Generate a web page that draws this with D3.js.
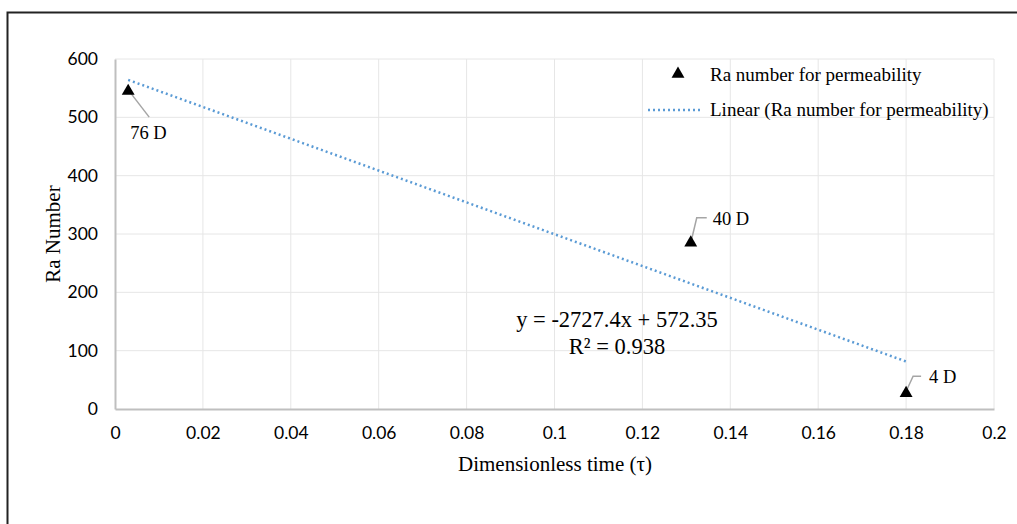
<!DOCTYPE html>
<html>
<head>
<meta charset="utf-8">
<script src="https://cdn.jsdelivr.net/npm/d3@7"></script>
<style>
  body { margin: 0; background: #fff; }
  svg { display: block; }
  .tick text { font-family: Lato, "Open Sans", sans-serif; font-size: 17.5px; fill: #000; }
  .serif { font-family: "Liberation Serif", "Times New Roman", serif; fill: #000; }
</style>
</head>
<body>
<svg id="chart" width="1017" height="524"></svg>
<script>
// data
const tau = [0.003, 0.131, 0.18];
const raNumber = [545, 285, 27];
const permLabels = ["76 D", "40 D", "4 D"];
const xTicks = [0, 0.02, 0.04, 0.06, 0.08, 0.1, 0.12, 0.14, 0.16, 0.18, 0.2];
const yTicks = [0, 100, 200, 300, 400, 500, 600];
const slope = -2727.4, intercept = 572.35, r2 = 0.938;

const svg = d3.select("#chart"),
  width = +svg.attr("width"),
  height = +svg.attr("height");

const margin = { left: 115, right: 23, top: 59, bottom: 115 };

const x = d3.scaleLinear().domain([0, 0.2]).range([margin.left, width - margin.right]);
const y = d3.scaleLinear().domain([0, 600]).range([height - margin.bottom, margin.top]);

// outer frame (top + left only)
svg.append("path")
  .attr("d", `M7.5,${height} V12.5 H${width}`)
  .attr("fill", "none")
  .attr("stroke", "#222")
  .attr("stroke-width", 2);

// grid
svg.append("g")
  .selectAll("line")
  .data(yTicks.slice(1))
  .join("line")
  .attr("x1", x(0)).attr("x2", x(0.2))
  .attr("y1", d => y(d)).attr("y2", d => y(d))
  .attr("stroke", "#e6e6e6");
svg.append("g")
  .selectAll("line")
  .data(xTicks.slice(1))
  .join("line")
  .attr("x1", d => x(d)).attr("x2", d => x(d))
  .attr("y1", y(0)).attr("y2", y(600))
  .attr("stroke", "#e6e6e6");

// axes
const xAxis = svg.append("g")
  .attr("transform", `translate(0,${y(0)})`)
  .call(d3.axisBottom(x).tickValues(xTicks).tickSize(0).tickPadding(18).tickFormat(d => d3.format("")(+d.toFixed(2))));
const yAxis = svg.append("g")
  .attr("transform", `translate(${x(0)},0)`)
  .call(d3.axisLeft(y).tickValues(yTicks).tickSize(0).tickPadding(17));
[xAxis, yAxis].forEach(a => {
  a.select(".domain").attr("stroke", "#bfbfbf").attr("stroke-width", 2);
});

// axis titles
svg.append("text")
  .attr("class", "serif")
  .attr("x", 555).attr("y", 471)
  .attr("text-anchor", "middle")
  .attr("font-size", 21)
  .text("Dimensionless time (τ)");
svg.append("text")
  .attr("class", "serif")
  .attr("transform", `translate(60,${y(300)}) rotate(-90)`)
  .attr("text-anchor", "middle")
  .attr("font-size", 21)
  .text("Ra Number");

// trend line
const xr = d3.extent(tau);
svg.append("line")
  .attr("x1", x(xr[0])).attr("y1", y(slope * xr[0] + intercept))
  .attr("x2", x(xr[1])).attr("y2", y(slope * xr[1] + intercept))
  .attr("stroke", "#5b9bd5")
  .attr("stroke-width", 2.5)
  .attr("stroke-dasharray", "2 3");

// callouts
const calloutPaths = [
  (px, py) => `M${px + 1},${py} L${px + 21},${py + 26}`,
  (px, py) => `M${px + 1},${py - 4} L${px + 6},${py - 25} H${px + 16}`,
  (px, py) => `M${px + 1},${py - 4} L${px + 7},${py - 17} H${px + 15}`
];
const labelOffsets = [[2, 48], [22, -18], [23, -10]];
const pts = tau.map((t, i) => ({ t: t, v: raNumber[i], label: permLabels[i], i: i }));

svg.append("g")
  .selectAll("path")
  .data(pts)
  .join("path")
  .attr("d", d => calloutPaths[d.i](x(d.t), y(d.v)))
  .attr("fill", "none")
  .attr("stroke", "#a5a5a5")
  .attr("stroke-width", 1.5);

svg.append("g")
  .selectAll("text")
  .data(pts)
  .join("text")
  .attr("class", "serif")
  .attr("font-size", 18.5)
  .attr("x", d => x(d.t) + labelOffsets[d.i][0])
  .attr("y", d => y(d.v) + labelOffsets[d.i][1])
  .text(d => d.label);

// markers
const tri = d3.symbol().type(d3.symbolTriangle).size(72);
svg.append("g")
  .selectAll("path")
  .data(pts)
  .join("path")
  .attr("d", tri)
  .attr("transform", d => `translate(${x(d.t)},${y(d.v)})`)
  .attr("fill", "#000");

// equation
const eq = svg.append("text")
  .attr("class", "serif")
  .attr("text-anchor", "middle")
  .attr("font-size", 22.5);
eq.append("tspan").attr("x", 617).attr("y", 327).text(`y = ${slope}x + ${intercept}`);
eq.append("tspan").attr("x", 617).attr("y", 354).text(`R² = ${r2}`);

// legend
const lg = svg.append("g");
lg.append("path")
  .attr("d", tri)
  .attr("transform", "translate(678,74)")
  .attr("fill", "#000");
lg.append("line")
  .attr("x1", 648).attr("x2", 701)
  .attr("y1", 110).attr("y2", 110)
  .attr("stroke", "#5b9bd5")
  .attr("stroke-width", 2.5)
  .attr("stroke-dasharray", "2 3");
lg.append("text").attr("class", "serif").attr("font-size", 19)
  .attr("x", 710).attr("y", 81).text("Ra number for permeability");
lg.append("text").attr("class", "serif").attr("font-size", 19)
  .attr("x", 710).attr("y", 116).text("Linear (Ra number for permeability)");
</script>
</body>
</html>
